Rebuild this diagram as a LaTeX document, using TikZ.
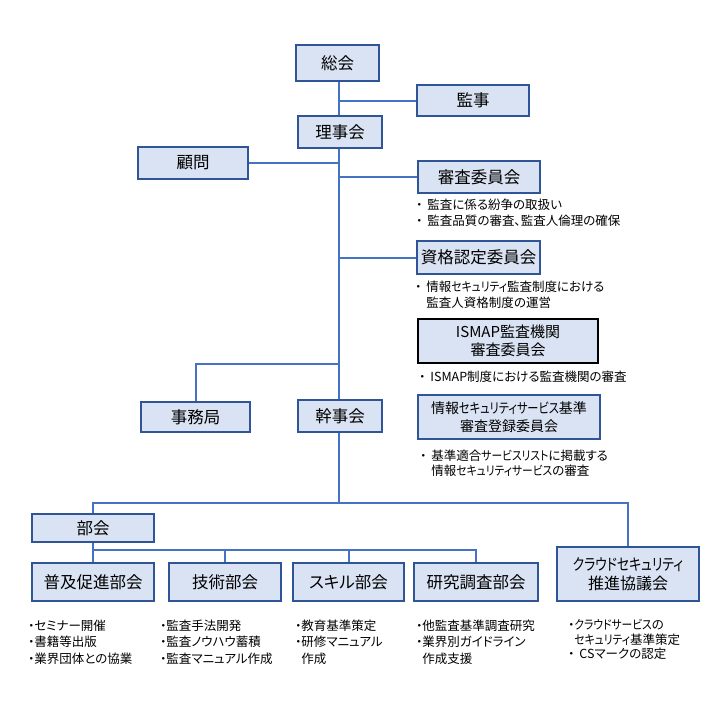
\documentclass[tikz,border=0pt]{standalone}
\usepackage{graphicx}
\usepackage{fontspec}
\setmainfont[RawFeature=+palt]{Noto Sans CJK JP}
\definecolor{boxfill}{HTML}{DAE3F3}
\definecolor{boxline}{HTML}{2F5597}
\definecolor{wirec}{HTML}{4472C4}
\newcommand{\myTopBul}{・\hspace{5pt}}
\newcommand{\mySmallBul}{・}
\newcommand{\knA}[1]{\scalebox{0.8}[1]{#1}}
\newcommand{\knB}[1]{\scalebox{0.86}[1]{#1}}
\begin{document}
\begin{tikzpicture}[x=1pt,y=-1pt,
  box/.style={draw=boxline, fill=boxfill, line width=1.2pt, inner sep=0pt, align=center, font=\fontsize{16.5}{19}\selectfont},
  wire/.style={draw=wirec, line width=2pt},
  note/.style={anchor=north west, inner sep=0pt, align=left}]
\useasboundingbox (0,0) rectangle (720,725);
\fill[white] (0,0) rectangle (720,725);

% boxes
\node[box, minimum width=83pt, minimum height=36pt] (soukai) at (337.5,63) {総会};
\node[box, minimum width=112pt, minimum height=31pt] (kanji) at (473,100.5) {監事};
\node[box, minimum width=84pt, minimum height=32pt] (rijikai) at (340,132) {理事会};
\node[box, minimum width=110pt, minimum height=32pt] (komon) at (193,163) {顧問};
\node[box, minimum width=122pt, minimum height=32pt] (shinsa) at (479,177) {審査委員会};
\node[box, minimum width=123pt, minimum height=33pt] (shikaku) at (478.5,257.5) {資格認定委員会};
\node[box, draw=black, minimum width=180pt, minimum height=44pt, font=\fontsize{15}{17.5}\selectfont] (ismap) at (508,341) {ISMAP監査機関\\審査委員会};
\node[box, minimum width=182pt, minimum height=44pt, font=\fontsize{14}{18}\selectfont] (jouhou) at (509,417) {情報\knA{セキュリティサービス}基準\\審査登録委員会};
\node[box, minimum width=109pt, minimum height=30pt] (jimukyoku) at (195.5,417) {事務局};
\node[box, minimum width=84pt, minimum height=32pt] (kanjikai) at (340,416) {幹事会};
\node[box, minimum width=122pt, minimum height=28pt] (bukai) at (93,528) {部会};
\node[box, minimum width=122pt, minimum height=38pt] (fukyu) at (93,582) {普及促進部会};
\node[box, minimum width=112pt, minimum height=38pt] (gijutsu) at (225,582) {技術部会};
\node[box, minimum width=111pt, minimum height=38pt] (skill) at (348.5,582) {スキル部会};
\node[box, minimum width=124pt, minimum height=38pt] (kenkyu) at (476,582) {研究調査部会};
\node[box, minimum width=142pt, minimum height=54pt, font=\fontsize{16}{18.5}\selectfont] (cloud) at (628,574) {\knA{クラウドセキュリティ}\\推進協議会};

% connectors
\coordinate (t) at (339,0);
\coordinate (j) at (339,364);
\coordinate (h) at (339,503);
\coordinate (s) at (0,550);
\draw[wire] (soukai.south -| t) -- (rijikai.north -| t);
\draw[wire] (t |- kanji.west) -- (kanji.west);
\draw[wire] (rijikai.south -| t) -- (kanjikai.north -| t);
\draw[wire] (komon.east) -- (t |- komon.east);
\draw[wire] (t |- shinsa.west) -- (shinsa.west);
\draw[wire] (t |- shikaku.west) -- (shikaku.west);
\draw[wire] (j) -| (jimukyoku.north);
\draw[wire] (kanjikai.south -| t) -- (h);
\draw[wire] (bukai.north) |- (h) -| (cloud.north);
\draw[wire] (bukai.south) -- (fukyu.north);
\draw[wire] (bukai.south |- s) -| (kenkyu.north);
\draw[wire] (gijutsu.north |- s) -- (gijutsu.north);
\draw[wire] (skill.north |- s) -- (skill.north);

% notes
\node[note, font=\fontsize{12.5}{15.7}\selectfont] (nshinsa) at (416,199)
  {\myTopBul 監査に係る紛争の取扱い\\\myTopBul 監査品質の審査、監査人倫理の確保};
\node[note, font=\fontsize{12.5}{15.3}\selectfont] (nshikaku) at (415,281)
  {\myTopBul 情報\knB{セキュリティ}監査制度における\\\phantom{\myTopBul}監査人資格制度の運営};
\node[note, font=\fontsize{12.5}{15}\selectfont] (nismap) at (419,371)
  {\myTopBul ISMAP制度における監査機関の審査};
\node[note, font=\fontsize{12.5}{14.5}\selectfont] (njouhou) at (420,450)
  {\myTopBul 基準適合\knB{サービスリスト}に掲載する\\\phantom{\myTopBul}情報\knB{セキュリティサービス}の審査};
\node[note, font=\fontsize{12.5}{16.2}\selectfont] (nfukyu) at (28,620)
  {\mySmallBul セミナー開催\\\mySmallBul 書籍等出版\\\mySmallBul 業界団体との協業};
\node[note, font=\fontsize{12.5}{16.2}\selectfont] (ngijutsu) at (160,620)
  {\mySmallBul 監査手法開発\\\mySmallBul 監査ノウハウ蓄積\\\mySmallBul 監査マニュアル作成};
\node[note, font=\fontsize{12.5}{16.2}\selectfont] (nskill) at (295,620)
  {\mySmallBul 教育基準策定\\\mySmallBul 研修マニュアル\\\phantom{\mySmallBul}作成};
\node[note, font=\fontsize{12.5}{16.2}\selectfont] (nkenkyu) at (416,620)
  {\mySmallBul 他監査基準調査研究\\\mySmallBul 業界別ガイドライン\\\phantom{\mySmallBul}作成支援};
\node[note, font=\fontsize{12.5}{14.5}\selectfont] (ncloud) at (568,619)
  {\mySmallBul \knB{クラウドサービス}の\\\phantom{\mySmallBul}\knB{セキュリティ}基準策定\\\myTopBul CSマークの認定};
\end{tikzpicture}
\end{document}
